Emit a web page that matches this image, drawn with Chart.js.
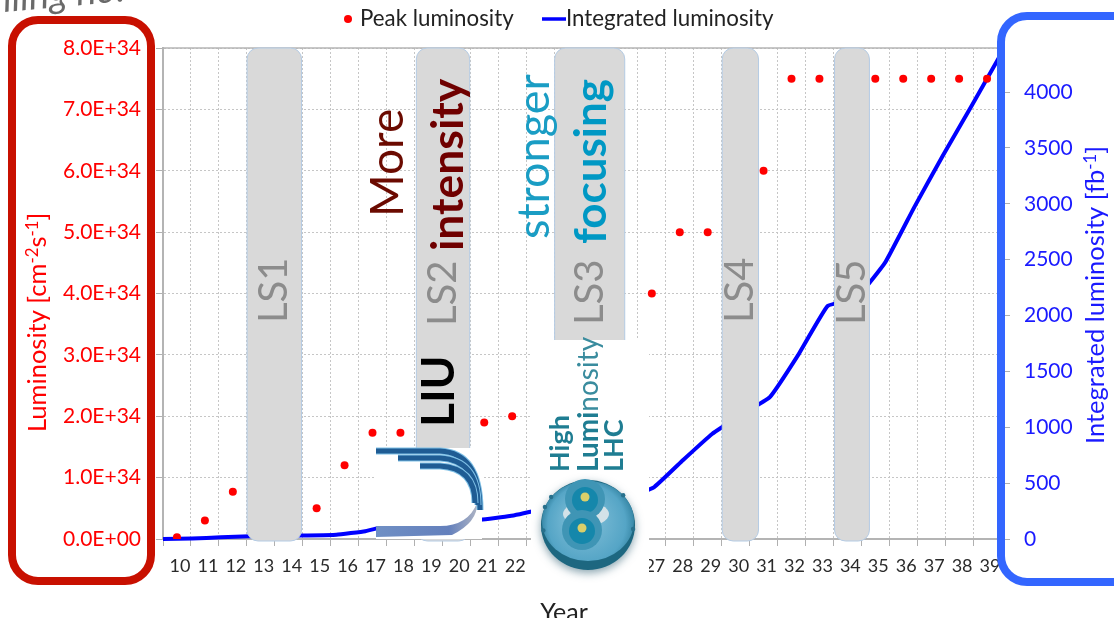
<!DOCTYPE html>
<html>
<head>
<meta charset="utf-8">
<title>Luminosity</title>
<style>
    html, body { margin: 0; padding: 0; background: #fff; overflow: hidden; }
    canvas { display: block; }
</style>
<script src="https://cdn.jsdelivr.net/npm/chart.js@4"></script>
</head>
<body>
<canvas id="lumiChart" width="1114" height="618"></canvas>
<script>
// Chart data
const years = ['10', '11', '12', '13', '14', '15', '16', '17', '18', '19', '20', '21', '22', '23', '24', '25', '26', '27', '28', '29', '30', '31', '32', '33', '34', '35', '36', '37', '38', '39'];
const peakLumi = [0.03e34, 0.3e34, 0.77e34, null, null, 0.5e34, 1.2e34, 1.73e34, 1.73e34, null, null, 1.9e34, 2.0e34, null, null, null, null, 4.0e34, 5.0e34, 5.0e34, null, 6.0e34, 7.5e34, 7.5e34, null, 7.5e34, 7.5e34, 7.5e34, 7.5e34, 7.5e34];
const integratedLumi = [0, 5, 15, 25, 30, 32, 38, 70, 135, 165, 170, 172, 205, 260, 320, 350, 358, 465, 707, 940, 1110, 1270, 1655, 2085, 2157, 2478, 2970, 3436, 3885, 4340];
const leftTicks = ['0.0E+00', '1.0E+34', '2.0E+34', '3.0E+34', '4.0E+34', '5.0E+34', '6.0E+34', '7.0E+34', '8.0E+34'];
const rightTicks = [0, 500, 1000, 1500, 2000, 2500, 3000, 3500, 4000];

// Long shutdowns, in years on the bottom axis
const lsNames = ['LS1', 'LS2', 'LS3', 'LS4', 'LS5'];
const lsFrom = [12.51, 18.57, 23.52, 29.52, 33.54];
const lsTo = [14.46, 20.48, 26.03, 30.82, 34.79];

const FONT = 'Lato, Carlito, sans-serif';
const RED = '#ff0000';
const BLUE = '#0000ff';
const BLUE_TEXT = '#1a1aff';

function roundBox(ctx, x, y, w, h, r) {
    ctx.beginPath();
    ctx.roundRect(x, y, w, h, r);
}

// Text running bottom to top, anchored on its lower end
function upText(ctx, text, x, y, font, color) {
    ctx.save();
    ctx.translate(x, y);
    ctx.rotate(-Math.PI / 2);
    ctx.font = font;
    ctx.fillStyle = color;
    ctx.textAlign = 'left';
    ctx.textBaseline = 'middle';
    ctx.fillText(text, 0, 0);
    ctx.restore();
}

// Axis title with real superscripts: parts are [text, isSuperscript]
function upTitle(ctx, parts, x, y, size, color) {
    ctx.save();
    ctx.translate(x, y);
    ctx.rotate(-Math.PI / 2);
    ctx.fillStyle = color;
    ctx.textAlign = 'left';
    ctx.textBaseline = 'alphabetic';
    let pos = 0;
    parts.forEach((p) => {
        ctx.font = (p[1] ? size * 0.66 : size) + 'px ' + FONT;
        ctx.fillText(p[0], pos, p[1] ? size * 0.02 : size * 0.35);
        pos += ctx.measureText(p[0]).width;
    });
    ctx.restore();
}

function drawLegend(chart) {
    const ctx = chart.ctx;
    const sets = chart.data.datasets;
    ctx.save();
    ctx.font = '22.3px ' + FONT;
    ctx.fillStyle = '#222';
    ctx.textBaseline = 'middle';
    ctx.textAlign = 'left';
    ctx.fillText(sets[0].label, 360, 19);
    ctx.fillText(sets[1].label, 566, 19);
    ctx.fillStyle = sets[0].backgroundColor;
    ctx.beginPath();
    ctx.arc(348, 19, 4, 0, Math.PI * 2);
    ctx.fill();
    ctx.strokeStyle = sets[1].borderColor;
    ctx.lineWidth = 3.5;
    ctx.beginPath();
    ctx.moveTo(542, 19);
    ctx.lineTo(566, 19);
    ctx.stroke();
    ctx.restore();
}

function drawBands(chart) {
    const ctx = chart.ctx;
    const xs = chart.scales.x;
    const step = xs.getPixelForValue(1) - xs.getPixelForValue(0);
    const xAt = (y) => xs.getPixelForValue(0) + (y - 10) * step;
    const top = chart.chartArea.top;
    const bottom = chart.chartArea.bottom + 2;
    lsNames.forEach((name, i) => {
        const l = xAt(lsFrom[i]);
        const r = xAt(lsTo[i]);
        roundBox(ctx, l, top, r - l, bottom - top, 11);
        ctx.fillStyle = '#d9d9d9';
        ctx.fill();
        ctx.strokeStyle = '#b4cbe4';
        ctx.lineWidth = 1;
        ctx.stroke();
    });
    const labelY = [323, 326, 325, 323, 325];
    lsNames.forEach((name, i) => {
        upText(ctx, name, (xAt(lsFrom[i]) + xAt(lsTo[i])) / 2, labelY[i], '40px ' + FONT, '#8c8c8c');
    });
}

function drawNotes(chart) {
    const ctx = chart.ctx;
    upText(ctx, 'More', 388, 217, '46px ' + FONT, '#6b0a00');
    upText(ctx, 'intensity', 449, 251, 'bold 44.5px ' + FONT, '#6f0000');
    upText(ctx, 'stronger', 534, 239, '45px ' + FONT, '#1a9dc4');
    upText(ctx, 'focusing', 592, 244, 'bold 44px ' + FONT, '#0098c4');
    upText(ctx, 'LIU', 439, 427, 'bold 46px ' + FONT, '#000');

    // Cut off slide title in the top left corner
    ctx.save();
    ctx.translate(4, 12);
    ctx.rotate(-0.09);
    ctx.font = 'italic 38px ' + FONT;
    ctx.fillStyle = '#6a6a6a';
    ctx.textBaseline = 'alphabetic';
    ctx.fillText('lling no. 1', 0, 0);
    ctx.restore();
}

function drawAxisTitles(ctx) {
    upTitle(ctx, [['Luminosity [cm', false], ['-2', true], ['s', false], ['-1', true], [']', false]], 37, 432, 25.5, RED);
    upTitle(ctx, [['Integrated luminosity [fb', false], ['-1', true], [']', false]], 1095, 444, 25.5, BLUE_TEXT);
    ctx.save();
    ctx.font = '25px ' + FONT;
    ctx.fillStyle = '#222';
    ctx.textAlign = 'center';
    ctx.textBaseline = 'alphabetic';
    ctx.fillText('Year', 564, 621);
    ctx.restore();
}

function drawLiuLogo(ctx) {
    ctx.save();
    ctx.fillStyle = '#fff';
    ctx.fillRect(376, 448, 106, 91);

    // bottom swoosh
    const band = ctx.createLinearGradient(376, 0, 480, 0);
    band.addColorStop(0, '#6f8fc4');
    band.addColorStop(0.7, '#6480bc');
    band.addColorStop(1, '#b4b8c4');
    ctx.fillStyle = band;
    ctx.beginPath();
    ctx.moveTo(376, 526);
    ctx.lineTo(440, 526);
    ctx.quadraticCurveTo(468, 526, 477, 503);
    ctx.quadraticCurveTo(478, 522, 452, 535);
    ctx.lineTo(376, 537);
    ctx.closePath();
    ctx.fill();

    // three stripes curving down
    const stripes = [[376, 451, 480, 510], [398, 458, 478, 505], [420, 466, 475, 503]];
    ctx.lineCap = 'butt';
    stripes.forEach((s) => {
        ctx.beginPath();
        ctx.moveTo(s[0], s[1]);
        ctx.lineTo(440, s[1]);
        ctx.quadraticCurveTo(s[2], s[1] + 2, s[2], s[3]);
        ctx.strokeStyle = '#7fc0e6';
        ctx.lineWidth = 7;
        ctx.stroke();
        ctx.strokeStyle = '#1f5c94';
        ctx.lineWidth = 5;
        ctx.stroke();
    });
    ctx.restore();
}

function drawHlLogo(ctx) {
    const cx = 588;
    const cy = 525;
    ctx.save();
    ctx.fillStyle = '#fff';
    ctx.fillRect(531, 340, 118, 252);

    // words
    ctx.save();
    upText(ctx, 'High', 560, 472, 'bold 27px ' + FONT, '#1f7d92');
    ctx.font = 'bold 28px ' + FONT;
    const lumiWidth = ctx.measureText('Lumi').width;
    upText(ctx, 'Lumi', 589, 472, 'bold 28px ' + FONT, '#1f7d92');
    upText(ctx, 'nosity', 589, 472 - lumiWidth, '28px ' + FONT, '#3a8c9e');
    upText(ctx, 'LHC', 614, 472, 'bold 27px ' + FONT, '#1f7d92');
    ctx.restore();

    // magnet yoke with a dark lower rim
    ctx.shadowColor = 'rgba(40,90,110,0.55)';
    ctx.shadowBlur = 8;
    ctx.shadowOffsetY = 3;
    ctx.fillStyle = '#1d6780';
    ctx.beginPath();
    ctx.ellipse(cx, cy, 47, 45, 0, 0, Math.PI * 2);
    ctx.fill();
    ctx.shadowColor = 'transparent';
    const yoke = ctx.createRadialGradient(cx - 6, cy - 8, 10, cx, cy, 46);
    yoke.addColorStop(0, '#7cbcd6');
    yoke.addColorStop(0.8, '#55a5c6');
    yoke.addColorStop(1, '#3a8aa9');
    ctx.fillStyle = yoke;
    ctx.beginPath();
    ctx.ellipse(cx, cy - 4, 46, 40, 0, 0, Math.PI * 2);
    ctx.fill();

    // notches around the rim
    ctx.fillStyle = '#27708c';
    [-2.5, -0.7, 0.2, 2.9, 3.5].forEach((a) => {
        ctx.beginPath();
        ctx.arc(cx + Math.cos(a) * 46, cy - 4 + Math.sin(a) * 40, 2.2, 0, Math.PI * 2);
        ctx.fill();
    });

    // light gap between the two apertures
    ctx.fillStyle = '#d3e2e8';
    ctx.beginPath();
    ctx.ellipse(cx - 2, cy - 11, 23, 12, 0, 0, Math.PI * 2);
    ctx.fill();

    // apertures
    [[cx - 3, cy - 28], [cx - 6, cy + 3]].forEach((p) => {
        ctx.fillStyle = '#3f95b5';
        ctx.beginPath();
        ctx.arc(p[0], p[1] + 2, 20, 0, Math.PI * 2);
        ctx.fill();
        ctx.fillStyle = '#1587ab';
        ctx.beginPath();
        ctx.arc(p[0], p[1] + 3, 13, 0, Math.PI * 2);
        ctx.fill();
        ctx.fillStyle = '#d9cf6a';
        ctx.beginPath();
        ctx.arc(p[0], p[1], 4.5, 0, Math.PI * 2);
        ctx.fill();
    });
    ctx.restore();
}

function drawFrames(ctx) {
    ctx.save();
    ctx.lineWidth = 8;
    ctx.strokeStyle = '#c81000';
    roundBox(ctx, 12, 20, 139, 561, 26);
    ctx.stroke();
    ctx.strokeStyle = '#3366ff';
    roundBox(ctx, 1001, 16, 160, 566, 26);
    ctx.stroke();
    ctx.restore();
}

// Everything the slide put on top of the Excel chart
const slideOverlay = {
    id: 'slideOverlay',
    beforeDatasetsDraw(chart) {
        const a = chart.chartArea;
        const ctx = chart.ctx;
        ctx.save();
        ctx.strokeStyle = '#b4b4b4';
        ctx.lineWidth = 1.5;
        ctx.beginPath();
        ctx.moveTo(a.left, a.top);
        ctx.lineTo(a.right, a.top);
        ctx.stroke();
        ctx.restore();
    },
    afterDraw(chart) {
        const ctx = chart.ctx;
        drawLegend(chart);
        drawBands(chart);
        drawNotes(chart);
        drawLiuLogo(ctx);
        drawHlLogo(ctx);
        drawAxisTitles(ctx);
        drawFrames(ctx);
    }
};

const gridStyle = { color: '#c6c6c6', lineWidth: 1, tickColor: '#b0b0b0', tickLength: 7 };

new Chart(document.getElementById('lumiChart').getContext('2d'), {
    type: 'line',
    data: {
        labels: years,
        datasets: [{
            label: 'Peak luminosity',
            data: peakLumi,
            xAxisID: 'x',
            yAxisID: 'y',
            showLine: false,
            borderColor: RED,
            backgroundColor: RED,
            pointRadius: 4,
            pointBackgroundColor: RED,
            pointBorderWidth: 0
        }, {
            label: 'Integrated luminosity',
            data: integratedLumi,
            xAxisID: 'xLine',
            yAxisID: 'yRight',
            borderColor: BLUE,
            backgroundColor: BLUE,
            borderWidth: 4,
            pointRadius: 0,
            tension: 0.1,
            clip: false
        }]
    },
    options: {
        responsive: false,
        animation: false,
        layout: { padding: { top: 48, left: 0, right: 0, bottom: 0 } },
        plugins: { legend: { display: false }, tooltip: { enabled: false } },
        scales: {
            x: {
                position: 'bottom',
                offset: true,
                grid: { ...gridStyle, offset: true },
                border: { color: '#b4b4b4', width: 2, dash: [2, 2] },
                ticks: { color: '#2a2a2a', font: { family: FONT, size: 18 }, maxRotation: 0, autoSkip: false, padding: 9, labelOffset: 3 },
                afterFit(scale) { scale.height = 79; }
            },
            // the integrated curve sits on the tick marks, edge to edge
            xLine: { display: false, offset: false },
            y: {
                position: 'left',
                min: 0,
                max: 8e34,
                ticks: {
                    stepSize: 1e34,
                    color: RED,
                    font: { family: FONT, size: 21 },
                    padding: 15,
                    callback: (v, i) => leftTicks[i]
                },
                grid: gridStyle,
                border: { color: '#b4b4b4', width: 2, dash: [2, 2] },
                afterFit(scale) { scale.width = 163; }
            },
            yRight: {
                position: 'right',
                min: 0,
                max: 4394,
                // stepSize alone gets stretched to fit the max, so set the ticks here
                afterBuildTicks(scale) { scale.ticks = rightTicks.map((v) => ({ value: v })); },
                ticks: {
                    color: BLUE_TEXT,
                    font: { family: FONT, size: 21 },
                    padding: 14,
                    callback: (v) => String(v)
                },
                grid: { drawOnChartArea: false, tickColor: '#b0b0b0', tickLength: 9 },
                border: { color: '#b4b4b4', width: 1 },
                afterFit(scale) { scale.width = 113; }
            }
        }
    },
    plugins: [slideOverlay]
});
</script>
</body>
</html>
